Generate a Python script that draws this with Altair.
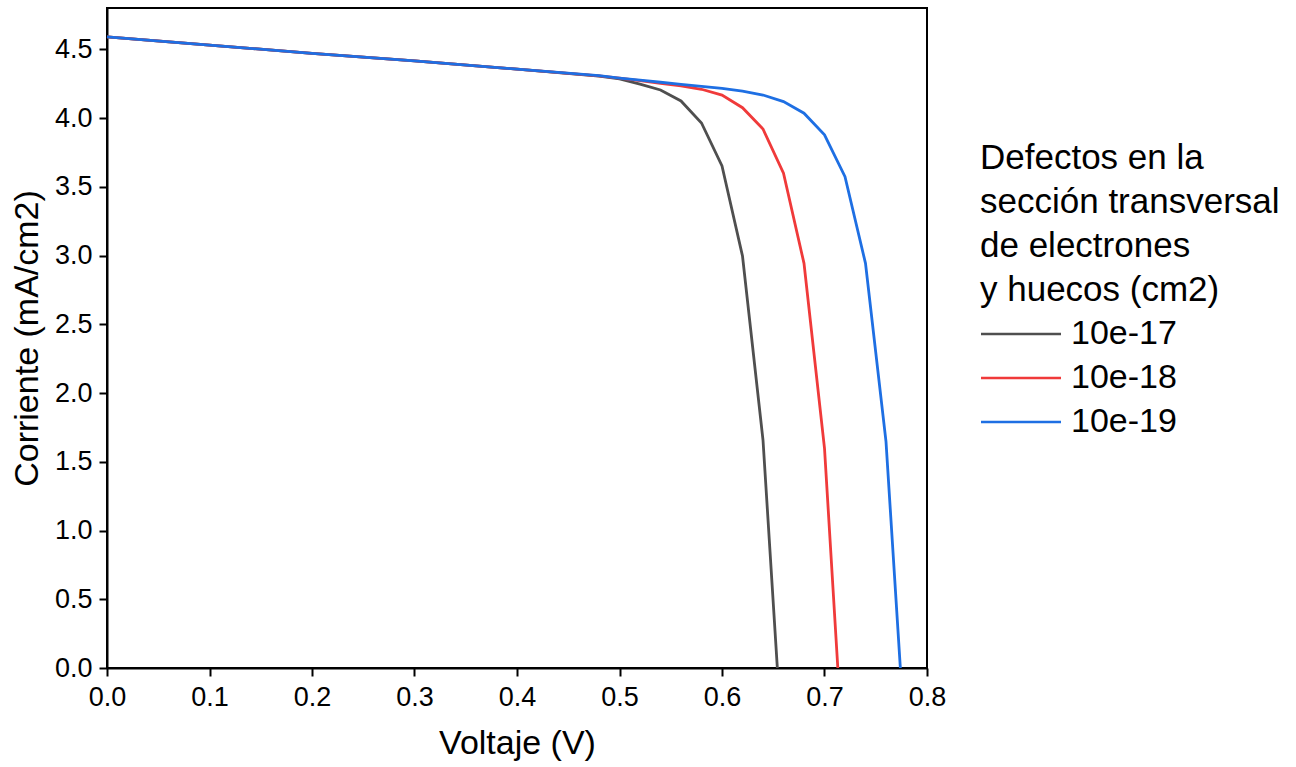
import altair as alt
import pandas as pd

series_names = ["10e-17", "10e-18", "10e-19"]
colors = ["#4f4f4f", "#f03a3a", "#1e6fe3"]

v_17 = [0.0, 0.1, 0.2, 0.3, 0.4, 0.48, 0.50, 0.52, 0.54, 0.56, 0.58, 0.60, 0.62, 0.64, 0.654]
i_17 = [4.59, 4.53, 4.47, 4.415, 4.355, 4.305, 4.285, 4.247, 4.204, 4.124, 3.964, 3.651, 2.996, 1.658, 0.0]

v_18 = [0.0, 0.1, 0.2, 0.3, 0.4, 0.48, 0.50, 0.52, 0.54, 0.56, 0.58, 0.60, 0.62, 0.64, 0.66, 0.68, 0.70, 0.713]
i_18 = [4.59, 4.53, 4.47, 4.415, 4.355, 4.307, 4.29, 4.272, 4.252, 4.233, 4.209, 4.167, 4.075, 3.92, 3.598, 2.943, 1.598, 0.0]

v_19 = [0.0, 0.1, 0.2, 0.3, 0.4, 0.48, 0.50, 0.52, 0.54, 0.56, 0.58, 0.60, 0.62, 0.64, 0.66, 0.68, 0.70, 0.72, 0.74, 0.76, 0.774]
i_19 = [4.59, 4.53, 4.47, 4.415, 4.355, 4.308, 4.29, 4.275, 4.26, 4.245, 4.23, 4.215, 4.195, 4.167, 4.119, 4.035, 3.877, 3.573, 2.943, 1.646, 0.0]

x_ticks = [0.0, 0.1, 0.2, 0.3, 0.4, 0.5, 0.6, 0.7, 0.8]
y_ticks = [0.0, 0.5, 1.0, 1.5, 2.0, 2.5, 3.0, 3.5, 4.0, 4.5]

rows = []
for name, vs, cs in zip(series_names, [v_17, v_18, v_19], [i_17, i_18, i_19]):
    for k, (v, c) in enumerate(zip(vs, cs)):
        rows.append({"serie": name, "V": v, "I": c, "orden": k})
df = pd.DataFrame(rows)

FONT = "Liberation Sans"

chart = alt.Chart(df).mark_line(strokeWidth=2.8).encode(
    x=alt.X("V:Q", scale=alt.Scale(domain=[0, 0.8], nice=False),
            axis=alt.Axis(title="Voltaje (V)", values=x_ticks, format=".1f",
                          grid=False, tickSize=8, labelPadding=8, titlePadding=16,
                          labelFlush=False)),
    y=alt.Y("I:Q", scale=alt.Scale(domain=[0, 4.8], nice=False),
            axis=alt.Axis(title="Corriente (mA/cm2)", values=y_ticks, format=".1f",
                          grid=False, tickSize=8, labelPadding=7, titlePadding=10,
                          labelFlush=False)),
    color=alt.Color("serie:N",
                    scale=alt.Scale(domain=series_names, range=colors),
                    legend=alt.Legend(
                        title=["Defectos en la", "sección transversal",
                               "de electrones", "y huecos (cm2)"],
                        orient="none", legendX=873, legendY=133,
                        titleFontSize=35, titleFontWeight="normal", titleLineHeight=44,
                        titleColor="black", titleFont=FONT, titlePadding=9,
                        titleLimit=500, labelLimit=300,
                        labelFontSize=34, labelFont=FONT, labelColor="black",
                        symbolType="M-8,0L8,0", symbolSize=100, symbolStrokeWidth=2.5,
                        symbolOffset=24, labelOffset=33, rowPadding=10)),
    order="orden:Q",
).properties(
    width=820, height=660, background="white",
    padding={"left": 10, "top": 8, "right": 10, "bottom": 10},
).configure_axis(
    labelFont=FONT, titleFont=FONT, labelFontSize=27, titleFontSize=34,
    titleFontWeight="normal", labelColor="black", titleColor="black",
    domainColor="black", domainWidth=2, tickColor="black", tickWidth=2,
).configure_view(
    stroke="black", strokeWidth=2,
)

chart.save("out.html", embed_options={"renderer": "svg", "actions": False})
